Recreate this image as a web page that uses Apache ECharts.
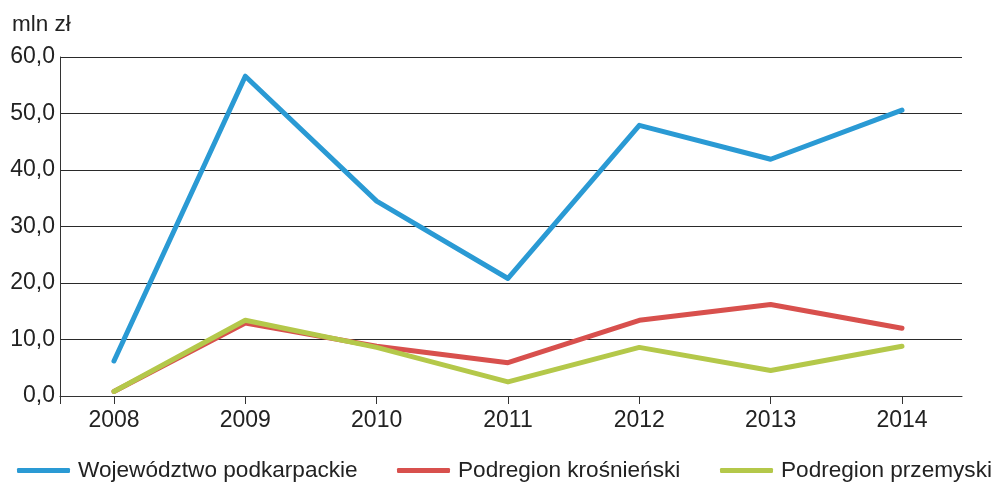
<!DOCTYPE html>
<html>
<head>
<meta charset="utf-8">
<script src="https://cdn.jsdelivr.net/npm/echarts@6/dist/echarts.min.js"></script>
<style>html,body{margin:0;padding:0;background:#fff}#c{width:994px;height:485px}</style>
</head>
<body>
<div id="c"></div>
<script>
const years = [2008, 2009, 2010, 2011, 2012, 2013, 2014];
const seriesNames = ['Województwo podkarpackie', 'Podregion krośnieński', 'Podregion przemyski'];
const wojewodztwo = [6.2, 56.6, 34.5, 20.8, 47.9, 41.9, 50.6];
const krosnienski = [0.8, 12.9, 8.8, 5.9, 13.4, 16.2, 12.0];
const przemyski = [0.8, 13.4, 8.6, 2.5, 8.6, 4.5, 8.8];
const yTicks = [0, 10, 20, 30, 40, 50, 60];
const unitLabel = 'mln zł';

const colors = ['#2a9ad4', '#d8504d', '#b4c84a'];
const font = '"Liberation Sans", Arial, sans-serif';
const xMin = 2007.589, xMax = 2014.457;

const chart = echarts.init(document.getElementById('c'), null, {renderer: 'canvas'});
const mk = (vals) => years.map((y, i) => [y, vals[i]]);
const allData = [wojewodztwo, krosnienski, przemyski];

const legendPos = [17, 397, 720];
chart.setOption({
  animation: false,
  textStyle: {fontFamily: font},
  title: {text: unitLabel, left: 7, top: 8, textStyle: {fontSize: 22.5, fontWeight: 'normal', color: '#222', fontFamily: font}},
  grid: {left: 60, right: 32, top: 57, bottom: 89, containLabel: false},
  legend: seriesNames.map((n, i) => ({
    data: [n], left: legendPos[i], top: 459, padding: 0, icon: 'roundRect', itemWidth: 53, itemHeight: 5, itemGap: 0,
    textStyle: {fontSize: 22.6, color: '#222', fontFamily: font, padding: [0, 0, 0, 3]}
  })),
  xAxis: {
    type: 'value', min: xMin, max: xMax,
    splitLine: {show: false},
    axisLine: {show: true, onZero: false, lineStyle: {color: '#333', width: 1}},
    axisTick: {show: true, length: 8, lineStyle: {color: '#333'}, customValues: [xMin].concat(years)},
    axisLabel: {customValues: years, fontSize: 23, color: '#222', margin: 13, fontFamily: font, formatter: v => String(v)}
  },
  yAxis: {
    type: 'value', min: 0, max: 60, interval: 10,
    axisLine: {show: true, lineStyle: {color: '#333', width: 1}},
    axisTick: {show: false},
    splitLine: {show: true, lineStyle: {color: '#2a2a2a', width: 1}},
    axisLabel: {fontSize: 23, color: '#222', margin: 5, fontFamily: font,
      formatter: v => yTicks.includes(v) ? v.toFixed(1).replace('.', ',') : ''}
  },
  series: seriesNames.map((n, i) => ({
    name: n, type: 'line', data: mk(allData[i]), showSymbol: false, symbol: 'none',
    itemStyle: {color: colors[i]},
    lineStyle: {color: colors[i], width: 5, cap: 'round', join: 'round'}
  }))
});
</script>
</body>
</html>
